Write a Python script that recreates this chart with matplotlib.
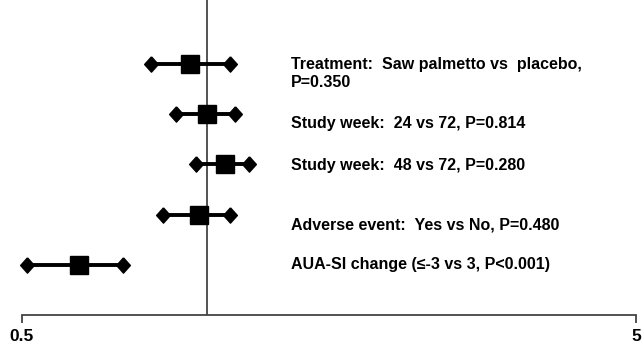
import matplotlib.pyplot as plt
import numpy as np

# Odds ratios with 95% confidence limits for each predictor
labels = [
    "Treatment:  Saw palmetto vs  placebo,\nP=0.350",
    "Study week:  24 vs 72, P=0.814",
    "Study week:  48 vs 72, P=0.280",
    "Adverse event:  Yes vs No, P=0.480",
    "AUA-SI change (\u2264-3 vs 3, P<0.001)",
]
odds_ratio = [0.94, 1.00, 1.07, 0.97, 0.62]
ci_low = [0.81, 0.89, 0.96, 0.85, 0.51]
ci_high = [1.09, 1.11, 1.17, 1.09, 0.73]

plt.rcParams['font.family'] = ['Liberation Sans', 'DejaVu Sans']

fig = plt.figure(figsize=(6.42, 3.43), dpi=100)
ax = fig.add_axes([22 / 642, 28 / 343, 614 / 642, 315 / 343])

y = np.arange(len(labels))[::-1] + 1.0

# slightly tall diamond for the interval ends
diamond = [(0, 1), (0.9, 0), (0, -1), (-0.9, 0), (0, 1)]

# Confidence interval bars with diamond caps
for yi, lo, hi in zip(y, ci_low, ci_high):
    ax.plot([lo, hi], [yi, yi], color='black', lw=2.8, solid_capstyle='butt', zorder=2)
ax.plot(ci_low, y, linestyle='none', marker=diamond, color='black', markersize=11,
        zorder=3, clip_on=False)
ax.plot(ci_high, y, linestyle='none', marker=diamond, color='black', markersize=11,
        zorder=3, clip_on=False)
ax.plot(odds_ratio, y, 's', color='black', markersize=12.5, zorder=4)

# Reference line at OR = 1
ax.axvline(1.0, color='#444444', lw=1.3, zorder=1)

# Labels to the right of the plot
text_offsets = [0.14, -0.18, -0.02, -0.2, 0.0]
for yi, lab, off in zip(y, labels, text_offsets):
    va = 'top' if '\n' in lab else 'center'
    ax.text(0.438, yi + off, lab, transform=ax.get_yaxis_transform(), ha='left', va=va,
            fontsize=11.5, fontweight='bold', linespacing=1.3)

ax.set_xscale('log')
ax.set_xlim(0.5, 5)
ax.set_ylim(0.0, 6.27)
ax.set_xticks([0.5, 5])
ax.set_xticklabels(['0.5', '5'])
ax.xaxis.set_minor_locator(plt.NullLocator())
ax.tick_params(axis='x', length=6, width=1.3, color='#444444', labelsize=12.5, pad=4)
for t in ax.get_xticklabels():
    t.set_fontweight('bold')
ax.set_yticks([])
for s in ['top', 'right', 'left']:
    ax.spines[s].set_visible(False)
ax.spines['bottom'].set_color('#444444')
ax.spines['bottom'].set_linewidth(1.3)

fig.savefig('out.png', dpi=100)
